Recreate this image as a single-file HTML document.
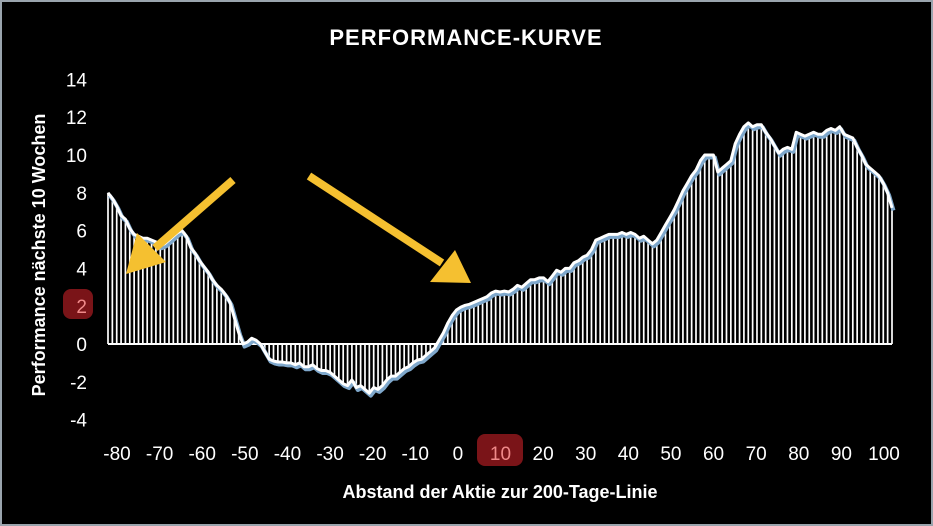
<!DOCTYPE html>
<html><head><meta charset="utf-8"><style>
html,body{margin:0;padding:0;background:#000;}
svg{display:block;font-family:"Liberation Sans",sans-serif;}
</style></head><body>
<svg id="chart" width="933" height="526" viewBox="0 0 933 526" xmlns="http://www.w3.org/2000/svg">
<rect x="1" y="1" width="931" height="524" fill="#000" stroke="#9aa4ad" stroke-width="2"/>
<text x="466" y="45" text-anchor="middle" fill="#fff" font-size="22" font-weight="bold" letter-spacing="1">PERFORMANCE-KURVE</text>
<text transform="translate(45,255) rotate(-90)" text-anchor="middle" fill="#fff" font-size="18" font-weight="bold">Performance nächste 10 Wochen</text>
<text x="500" y="498" text-anchor="middle" fill="#fff" font-size="18" font-weight="bold">Abstand der Aktie zur 200-Tage-Linie</text>
<rect x="63" y="289" width="30" height="30" rx="8" fill="#7a1418"/>
<rect x="477" y="434" width="46" height="32" rx="8" fill="#7a1418"/>
<g id="yticks"></g><g id="xticks"></g>
<g id="bars"></g>
<g id="lines"></g>
<g fill="#f5c030" stroke="#f5c030">
<line x1="233" y1="180" x2="155" y2="248" stroke-width="8"/>
<polygon points="126,274 137,233 166,262" stroke="none"/>
<line x1="309" y1="176" x2="442" y2="263" stroke-width="8"/>
<polygon points="471,283 430,282 455,250" stroke="none"/>
</g>
</svg>
<script>
const xStart = -80;
const values = [
8.0,7.7,7.3,6.8,6.6,6.1,5.8,5.7,5.6,5.6,
5.5,5.4,5.2,5.3,5.5,5.7,5.9,6.0,5.7,5.1,
4.8,4.4,4.1,3.8,3.4,3.1,2.9,2.6,2.2,1.4,
0.6,0.0,0.1,0.3,0.2,0.0,-0.4,-0.8,-0.9,-0.95,
-0.95,-1.0,-1.0,-1.1,-1.0,-1.2,-1.2,-1.1,-1.3,-1.4,
-1.4,-1.5,-1.7,-1.9,-2.1,-2.2,-1.9,-2.3,-2.2,-2.4,
-2.6,-2.3,-2.4,-2.2,-1.9,-1.7,-1.7,-1.5,-1.3,-1.2,
-1.0,-0.85,-0.8,-0.6,-0.4,-0.2,0.2,0.6,1.1,1.5,
1.8,1.95,2.05,2.1,2.2,2.3,2.4,2.5,2.7,2.8,
2.75,2.8,2.75,2.9,3.1,3.0,3.2,3.4,3.4,3.5,
3.5,3.3,3.6,3.9,3.8,4.0,4.0,4.3,4.4,4.6,
4.7,5.0,5.5,5.6,5.7,5.8,5.8,5.8,5.9,5.8,
5.9,5.8,5.6,5.7,5.5,5.3,5.5,5.9,6.3,6.7,
7.1,7.6,8.1,8.5,8.9,9.2,9.7,10.0,10.0,10.0,
9.1,9.3,9.5,9.7,10.6,11.1,11.5,11.7,11.5,11.6,
11.6,11.2,10.9,10.5,10.1,10.3,10.4,10.3,11.2,11.1,
11.0,11.1,11.2,11.1,11.1,11.3,11.4,11.3,11.5,11.1,
11.0,10.9,10.4,10.0,9.5,9.3,9.1,8.9,8.5,8.0,
7.2];
const yTicks = [14,12,10,8,6,4,2,0,-2,-4];
const xTicks = [-80,-70,-60,-50,-40,-30,-20,-10,0,10,20,30,40,50,60,70,80,90,100];
const highlightY = 2, highlightX = 10;

const NS = "http://www.w3.org/2000/svg";
const y = v => 344 - v * 18.9;
const x = v => 108 + (v + 80) * (784 / 180);
const xl = v => 117 + (v + 80) * (767 / 180);
function mk(tag, attrs, parent){ const e=document.createElementNS(NS,tag); for(const k in attrs) e.setAttribute(k,attrs[k]); parent.appendChild(e); return e; }

const yg=document.getElementById('yticks');
yTicks.forEach(v=>{
  const t=mk('text',{x:87,y:y(v)+7,'text-anchor':'end','font-size':19,fill:v===highlightY?'#f08a8a':'#fff'},yg);
  
  
  t.textContent=v;
});
const xg=document.getElementById('xticks');
xTicks.forEach(v=>{
  const t=mk('text',{x:xl(v),y:460,'text-anchor':'middle','font-size':19,fill:v===highlightX?'#f08a8a':'#fff'},xg);
  
  
  t.textContent=v;
});
const bg=document.getElementById('bars');
values.forEach((v,i)=>{
  const px=x(xStart+i);
  const b=mk('line',{x1:px,x2:px,y1:y(0),y2:y(v),stroke:'#fff','stroke-width':1.7},bg);
  
  
});
const base=mk('line',{x1:x(xStart),x2:x(xStart+values.length-1),y1:y(0),y2:y(0),stroke:'#fff','stroke-width':2},bg);


const pts=values.map((v,i)=>x(xStart+i).toFixed(1)+','+y(v).toFixed(1)).join(' ');
const lg=document.getElementById('lines');
const sh=mk('polyline',{points:pts,fill:'none',stroke:'#7fa8cc','stroke-width':4,'stroke-linejoin':'round',transform:'translate(1.5,2.5)'},lg);


const ln=mk('polyline',{points:pts,fill:'none',stroke:'#fff','stroke-width':3,'stroke-linejoin':'round'},lg);


</script>
</body></html>
